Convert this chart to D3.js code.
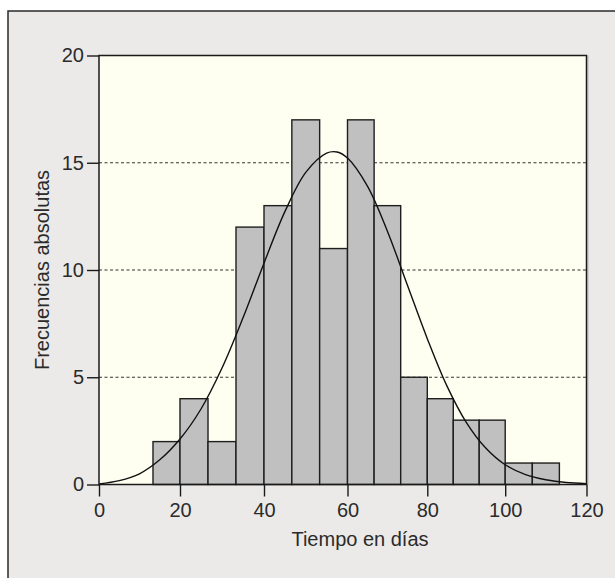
<!DOCTYPE html>
<html>
<head>
<meta charset="utf-8">
<script src="https://cdn.jsdelivr.net/npm/d3@7"></script>
<style>
  body { margin: 0; background: #fff; }
  svg text { font-family: "Liberation Sans", Arial, sans-serif; fill: #2b2b2b; }
</style>
</head>
<body>
<svg id="chart" width="615" height="578"></svg>
<script>
// Histogram bins (days) and absolute frequencies
const binEdges = [13.33, 20, 26.67, 33.33, 40, 46.67, 53.33, 60, 66.67, 73.33, 80, 86.67, 93.33, 100, 106.67, 113.33];
const frequencies = [2, 4, 2, 12, 13, 17, 11, 17, 13, 5, 4, 3, 3, 1, 1];

// Fitted normal curve
const curveDays = [0, 5, 10, 15, 20, 25, 30, 35, 40, 45, 50, 55, 57.5, 60, 65, 70, 75, 80, 85, 90, 95, 100, 105, 110, 115, 120];
const curveFreq = [0.03, 0.18, 0.5, 1.15, 2.12, 3.52, 5.43, 7.77, 10.32, 12.72, 14.55, 15.45, 15.5, 15.22, 13.91, 11.81, 9.30, 6.80, 4.61, 2.90, 1.70, 0.92, 0.46, 0.22, 0.09, 0.04];

const xTicks = [0, 20, 40, 60, 80, 100, 120];
const yTicks = [0, 5, 10, 15, 20];
const gridLevels = [5, 10, 15];

const xLabel = 'Tiempo en días';
const yLabel = 'Frecuencias absolutas';

const svg = d3.select('#chart');

// Outer panel
svg.append('rect')
  .attr('x', 8).attr('y', 11)
  .attr('width', 640).attr('height', 600)
  .attr('fill', '#ebeae8')
  .attr('stroke', '#2a2a2a')
  .attr('stroke-width', 1.5);

const plot = { left: 99, right: 586.5, top: 55.5, bottom: 484.5 };

// the printed axis is not quite even, so the ticks are pinned where they sit
const x = d3.scaleLinear()
  .domain(xTicks)
  .range([plot.left, 180, 264, 347.5, 427.3, 505.2, plot.right]);
const y = d3.scaleLinear().domain([0, 20]).range([plot.bottom, plot.top]);

// Plot background
svg.append('rect')
  .attr('x', plot.left).attr('y', plot.top)
  .attr('width', plot.right - plot.left)
  .attr('height', plot.bottom - plot.top)
  .attr('fill', '#fefef1');

// Dashed grid lines
svg.append('g')
  .selectAll('line')
  .data(gridLevels)
  .join('line')
  .attr('x1', plot.left).attr('x2', plot.right)
  .attr('y1', d => y(d)).attr('y2', d => y(d))
  .attr('stroke', '#333')
  .attr('stroke-width', 1)
  .attr('stroke-dasharray', '3,2.5');

// Bars
const bins = frequencies.map((f, i) => ({ x0: binEdges[i], x1: binEdges[i + 1], f }));

svg.append('g')
  .selectAll('rect')
  .data(bins)
  .join('rect')
  .attr('x', d => x(d.x0))
  .attr('y', d => y(d.f))
  .attr('width', d => x(d.x1) - x(d.x0))
  .attr('height', d => y(0) - y(d.f))
  .attr('fill', '#c0c0c0')
  .attr('stroke', '#1e1e1e')
  .attr('stroke-width', 1.4);

// Normal curve
const line = d3.line()
  .x((d, i) => x(curveDays[i]))
  .y(d => y(d))
  .curve(d3.curveCatmullRom.alpha(0.5));

svg.append('path')
  .datum(curveFreq)
  .attr('d', line)
  .attr('fill', 'none')
  .attr('stroke', '#111')
  .attr('stroke-width', 1.4);

// Plot frame (with a faint shadow on the right)
svg.append('line')
  .attr('x1', plot.right + 1.5).attr('x2', plot.right + 1.5)
  .attr('y1', plot.top).attr('y2', plot.bottom)
  .attr('stroke', '#b5b5b5')
  .attr('stroke-width', 1);

svg.append('rect')
  .attr('x', plot.left).attr('y', plot.top)
  .attr('width', plot.right - plot.left)
  .attr('height', plot.bottom - plot.top)
  .attr('fill', 'none')
  .attr('stroke', '#1a1a1a')
  .attr('stroke-width', 1.5);

// Axes
const xAxis = svg.append('g')
  .attr('transform', `translate(0,${plot.bottom})`)
  .call(d3.axisBottom(x).tickValues(xTicks).tickSize(12).tickPadding(6));

const yAxis = svg.append('g')
  .attr('transform', `translate(${plot.left},0)`)
  .call(d3.axisLeft(y).tickValues(yTicks).tickSize(12).tickPadding(3));

[xAxis, yAxis].forEach(ax => {
  ax.select('.domain').remove();
  ax.selectAll('line').attr('stroke', '#1a1a1a').attr('stroke-width', 1.4);
  ax.selectAll('text')
    .attr('font-size', 20)
    .attr('font-family', '"Liberation Sans", Arial, sans-serif')
    .attr('fill', '#2b2b2b');
});

// Axis titles
svg.append('text')
  .attr('x', 360)
  .attr('y', 546)
  .attr('text-anchor', 'middle')
  .attr('font-size', 20)
  .text(xLabel);

svg.append('text')
  .attr('transform', `translate(49, ${(plot.top + plot.bottom) / 2}) rotate(-90)`)
  .attr('text-anchor', 'middle')
  .attr('font-size', 20)
  .text(yLabel);
</script>
</body>
</html>
